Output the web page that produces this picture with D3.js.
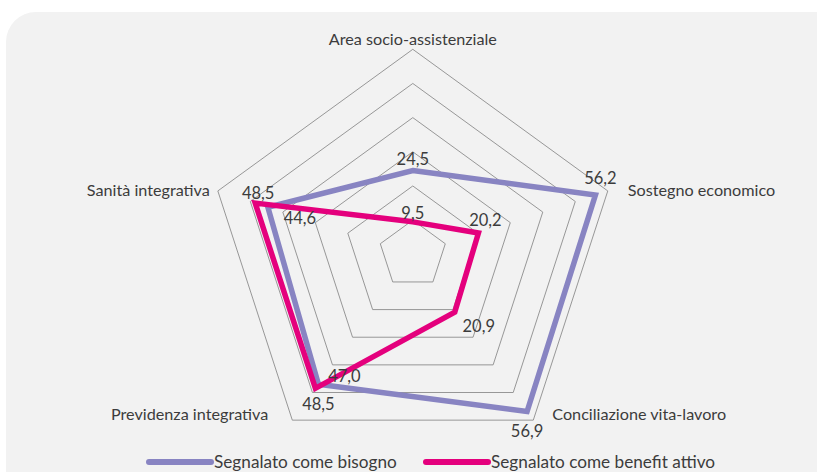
<!DOCTYPE html>
<html>
<head>
<meta charset="utf-8">
<script src="https://cdn.jsdelivr.net/npm/d3@7"></script>
<style>
  body { margin: 0; background: #fff; }
  svg text { font-family: Lato, "Open Sans", sans-serif; fill: #3c3c3c; }
</style>
</head>
<body>
<svg id="chart" width="817" height="472"></svg>
<script>
(function() {
  // chart data
  var categories = ["Area socio-assistenziale", "Sostegno economico", "Conciliazione vita-lavoro",
                    "Previdenza integrativa", "Sanità integrativa"];
  var bisogno = [24.5, 56.2, 56.9, 47.0, 44.6];
  var benefit = [9.5, 20.2, 20.9, 48.5, 48.5];
  var seriesNames = ["Segnalato come bisogno", "Segnalato come benefit attivo"];
  var ringValues = [10, 20, 30, 40, 50, 60];

  var svg = d3.select("#chart"),
    cx = 412.8,
    cy = 254.3;

  // panel background
  svg.append("rect")
      .attr("x", 6).attr("y", 12)
      .attr("width", 840).attr("height", 520)
      .attr("rx", 30).attr("ry", 30)
      .attr("fill", "#f2f2f2");

  var r = d3.scaleLinear().domain([0, 60]).range([0, 205]);
  var angle = d3.scaleLinear().domain([0, categories.length]).range([0, 2 * Math.PI]);

  function pt(i, v) {
    var a = angle(i);
    return [cx + r(v) * Math.sin(a), cy - r(v) * Math.cos(a)];
  }

  var radial = d3.lineRadial()
      .angle(function(d, i) { return angle(i); })
      .radius(function(d) { return r(d); })
      .curve(d3.curveLinearClosed);

  var g = svg.append("g").attr("transform", "translate(" + cx + "," + cy + ")");

  // grid rings
  g.selectAll("path.ring")
    .data(ringValues)
    .enter().append("path")
      .attr("class", "ring")
      .attr("d", function(v) { return radial(categories.map(function() { return v; })); })
      .attr("fill", "none")
      .attr("stroke", "#8c8c8c")
      .attr("stroke-width", 0.9);

  var series = [
    { name: seriesNames[0], values: bisogno, color: "#8884c2" },
    { name: seriesNames[1], values: benefit, color: "#e4007d" }
  ];

  g.selectAll("path.series")
    .data(series)
    .enter().append("path")
      .attr("class", "series")
      .attr("d", function(d) { return radial(d.values); })
      .attr("fill", "none")
      .attr("stroke", function(d) { return d.color; })
      .attr("stroke-width", 5.5)
      .attr("stroke-linejoin", "miter");

  // data label offsets (layout only)
  var labelOffsets = [
    [[0, -12], [5, -17], [0, 19], [26, -8], [32, 11]],
    [[0, -9], [7, -13], [24, 14], [3, 16], [3, -10]]
  ];
  var fmt = function(v) { return d3.format(".1f")(v).replace(".", ","); };

  series.forEach(function(s, si) {
    svg.append("g").selectAll("text")
      .data(s.values)
      .enter().append("text")
        .attr("x", function(d, i) { return pt(i, d)[0] + labelOffsets[si][i][0]; })
        .attr("y", function(d, i) { return pt(i, d)[1] + labelOffsets[si][i][1]; })
        .attr("dy", "0.36em")
        .attr("text-anchor", "middle")
        .attr("font-size", 16.5)
        .text(fmt);
  });

  // category labels
  var catPos = [
    { dx: 0, dy: -4, anchor: "middle" },
    { dx: 20, dy: 5, anchor: "start" },
    { dx: 19, dy: 0, anchor: "start" },
    { dx: -24, dy: 0, anchor: "end" },
    { dx: -8, dy: 5, anchor: "end" }
  ];
  svg.append("g").selectAll("text")
    .data(categories)
    .enter().append("text")
      .attr("x", function(d, i) { return pt(i, 60)[0] + catPos[i].dx; })
      .attr("y", function(d, i) { return pt(i, 60)[1] + catPos[i].dy; })
      .attr("text-anchor", function(d, i) { return catPos[i].anchor; })
      .attr("font-size", 16.2)
      .text(function(d) { return d; });

  // legend
  var legendX = [149, 426];
  var lg = svg.append("g").selectAll("g")
    .data(series)
    .enter().append("g")
      .attr("transform", function(d, i) { return "translate(" + legendX[i] + ",462)"; });
  lg.append("line")
      .attr("x1", 0).attr("x2", 62)
      .attr("stroke", function(d) { return d.color; })
      .attr("stroke-width", 6)
      .attr("stroke-linecap", "round");
  lg.append("text")
      .attr("x", 65)
      .attr("y", 6)
      .attr("font-size", 17.2)
      .text(function(d) { return d.name; });
})();
</script>
</body>
</html>
